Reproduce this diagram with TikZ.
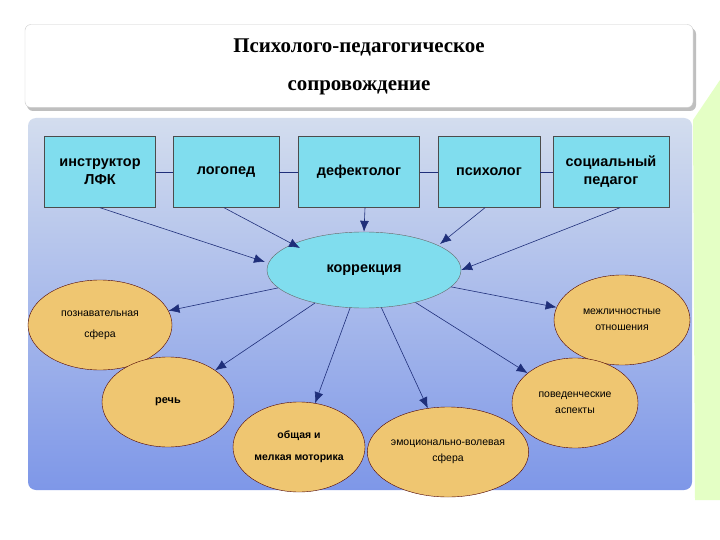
\documentclass[tikz,border=0pt]{standalone}
\usepackage{fontspec}
\setmainfont{Liberation Sans}
\newfontfamily\serifb{Liberation Serif}
\usetikzlibrary{shapes.geometric,arrows.meta,shadows}
\definecolor{boxc}{HTML}{80DDEE}
\definecolor{tan}{HTML}{EFC671}
\definecolor{panelT}{HTML}{D3DDEE}
\definecolor{panelB}{HTML}{7E97E8}
\definecolor{arr}{HTML}{1F2F7A}
\tikzset{
 topbox/.style={draw=black!70,fill=boxc,minimum width=#1,minimum height=71bp,inner sep=1pt,align=center,font=\bfseries\fontsize{14.5}{18}\selectfont},
 korr/.style={ellipse,draw=black!60,fill=boxc,minimum width=194bp,minimum height=76bp,inner sep=0pt,font=\bfseries\fontsize{14.5}{16}\selectfont},
 outer/.style={ellipse,draw=black!70!red,fill=tan,minimum width=#1,minimum height=90bp,inner sep=0pt,align=center,font=\fontsize{10.5}{21}\selectfont},
 link/.style={draw=arr,line width=0.8pt},
 conn/.style={draw=arr,line width=0.6pt,-{Latex[length=11pt,width=9pt]}}
}
\begin{document}
\begin{tikzpicture}[x=1bp,y=-1bp]
\useasboundingbox (0,0) rectangle (720,540);
\fill[white] (0,0) rectangle (720,540);
\fill[green!45!yellow!45,opacity=0.5] (693,120) -- (720,80) -- (720,500) -- (695,500) -- cycle;
\fill[black!25] (27,28) [rounded corners=6bp] rectangle (696,111);
\node[draw=black!20,fill=white,rounded corners=6bp,minimum width=668bp,minimum height=83bp] (title) at (359,66) {};
\node[font=\serifb\bfseries\fontsize{21}{38}\selectfont,align=center] (tt) at (359,67) {Психолого-педагогическое\\сопровождение};
\shade[top color=panelT,bottom color=panelB,rounded corners=8bp] (28,118) rectangle (692,490);
\node[topbox=111bp] (b1) at (100,172) {инструктор\\ЛФК};
\node[topbox=106bp] (b2) at (226,172) {логопед};
\node[topbox=121bp] (b3) at (359,172) {дефектолог};
\node[topbox=102bp] (b4) at (489,172) {психолог};
\node[topbox=116bp] (b5) at (611,172) {социальный\\педагог};
\draw[link] (b1) -- (b2) (b2) -- (b3) (b3) -- (b4) (b4) -- (b5);
\node[korr] (k) at (364,270) {коррекция};
\draw[conn] (b1.south) -- (265,262);
\draw[conn] ([xshift=-2bp]b2.south) -- (300,248);
\draw[conn] ([xshift=6bp]b3.south) -- (k.north);
\draw[conn] ([xshift=-4bp]b4.south) -- (440,244);
\draw[conn] ([xshift=9bp]b5.south) -- (k.east);
\node[outer=144bp] (o1) at (100,325) {познавательная\\сфера};
\node[outer=136bp,font=\fontsize{10.5}{16}\selectfont] (o2) at (622,320) {межличностные\\отношения};
\node[outer=132bp,font=\bfseries\fontsize{11}{13}\selectfont] (o3) at (168,402) {речь};
\node[outer=132bp,font=\bfseries\fontsize{10.5}{22}\selectfont] (o4) at (299,447) {общая и\\мелкая моторика};
\node[outer=148bp,font=\fontsize{10.5}{16}\selectfont] (o5) at (448,452) {эмоционально-волевая\\сфера};
\node[outer=126bp,font=\fontsize{10.5}{16}\selectfont] (o6) at (575,403) {поведенческие\\аспекты};
\draw[conn] (k) -- (o1);
\draw[conn] (k) -- (o2);
\draw[conn] (k) -- (o3);
\draw[conn] (k) -- (o4);
\draw[conn] (k) -- (o5);
\draw[conn] (k) -- (o6);
\end{tikzpicture}
\end{document}
